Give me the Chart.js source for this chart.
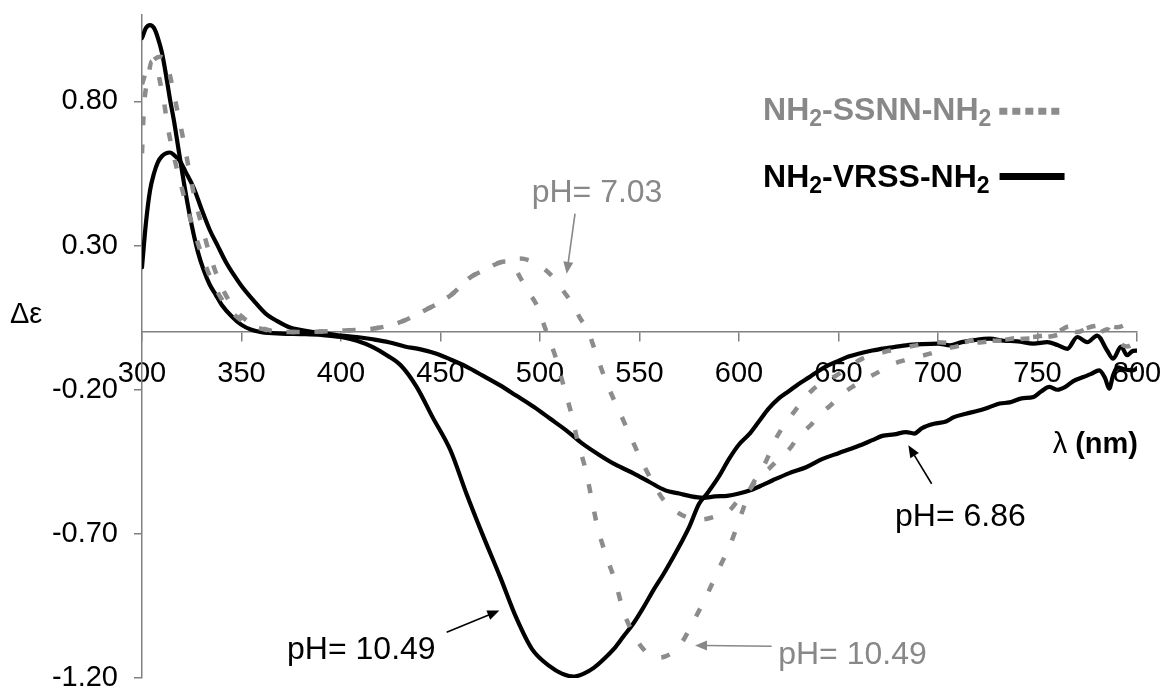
<!DOCTYPE html>
<html>
<head>
<meta charset="utf-8">
<script src="https://cdn.jsdelivr.net/npm/chart.js@4.4.1/dist/chart.umd.min.js"></script>
<style>
  html, body { margin: 0; padding: 0; background: #fff; }
  #wrap { width: 1166px; height: 690px; }
</style>
</head>
<body>
<div id="wrap"><canvas id="c" width="1166" height="690"></canvas></div>
<script>
// ---------- DATA ----------
const xTicksStep = 50;
const yTickValues = [-1.20, -0.70, -0.20, 0.30, 0.80];

// NH2-VRSS-NH2, pH 10.49 (black, deep minimum)
const vrss1049_x = [300,302,304,306,308,310,312,314,316,319,322,325,328,331,334,337,340,345,350,355,360,370,380,390,400,408,416,423,430,438,446,455,463,471,480,488,496,505,511,517,522,527,532,537,542,547,552,557,562,567,571,575,580,584,590,595,600,605,610,615,620,625,630,635,640,645,650,655,660,667,675,684,692,700,706,712,718,726,733,740,748,755,760,765,770,775,780,785,788,792,795,798,800];
const vrss1049_y = [1.02,1.055,1.065,1.055,1.02,0.97,0.895,0.81,0.735,0.606,0.48,0.37,0.28,0.215,0.165,0.13,0.095,0.055,0.025,0.008,0.0,-0.005,-0.007,-0.01,-0.017,-0.03,-0.052,-0.08,-0.115,-0.19,-0.295,-0.41,-0.56,-0.70,-0.85,-0.99,-1.10,-1.16,-1.185,-1.195,-1.185,-1.165,-1.135,-1.10,-1.055,-1.01,-0.955,-0.895,-0.84,-0.78,-0.73,-0.676,-0.595,-0.56,-0.50,-0.44,-0.39,-0.355,-0.31,-0.265,-0.23,-0.205,-0.18,-0.158,-0.135,-0.115,-0.10,-0.085,-0.075,-0.064,-0.055,-0.046,-0.042,-0.04,-0.046,-0.035,-0.028,-0.023,-0.03,-0.032,-0.04,-0.035,-0.045,-0.058,-0.017,-0.035,-0.012,-0.064,-0.092,-0.05,-0.08,-0.065,-0.064];

// NH2-VRSS-NH2, pH 6.86 (black, shallow minimum)
const vrss686_x = [300,302,304,306,308,310,312,314,316,319,322,326,330,334,338,342,346,350,356,362,368,374,380,386,393,400,408,416,424,432,440,448,455,463,471,480,488,497,505,513,521,530,538,547,555,563,570,576,582,588,594,600,606,612,617,625,634,642,650,659,667,672,678,684,688,692,698,704,708,714,720,726,731,736,742,748,752,756,760,764,768,773,777,781,784,786,788,790,794,798,800];
const vrss686_y = [0.225,0.38,0.49,0.55,0.59,0.61,0.62,0.623,0.615,0.594,0.555,0.50,0.425,0.355,0.30,0.245,0.20,0.16,0.11,0.065,0.038,0.017,0.007,0.0,-0.005,-0.012,-0.017,-0.025,-0.035,-0.05,-0.06,-0.075,-0.095,-0.12,-0.15,-0.185,-0.22,-0.26,-0.30,-0.34,-0.385,-0.427,-0.46,-0.49,-0.52,-0.549,-0.56,-0.57,-0.575,-0.57,-0.568,-0.56,-0.548,-0.53,-0.514,-0.49,-0.468,-0.44,-0.42,-0.398,-0.375,-0.36,-0.355,-0.347,-0.352,-0.333,-0.318,-0.31,-0.295,-0.283,-0.273,-0.26,-0.248,-0.244,-0.23,-0.225,-0.205,-0.19,-0.20,-0.19,-0.17,-0.156,-0.145,-0.133,-0.16,-0.196,-0.15,-0.122,-0.13,-0.133,-0.125];

// NH2-SSNN-NH2, pH 7.03 (grey dotted, shallow minimum)
const ssnn703_x = [300,301,303,305,307,309,311,313,316,320,324,328,332,336,340,345,350,356,362,370,380,390,400,415,428,442,455,465,472,480,485,490,496,502,508,512,517,520,524,529,534,540,546,552,559,563,569,575,581,588,595,600,606,610,615,620,626,630,636,640,646,651,657,663,670,676,683,690,696,702,708,715,722,730,740,750,760,766,772,778,784,790,795,800];
const ssnn703_y = [0.62,0.78,0.88,0.94,0.93,0.87,0.80,0.71,0.61,0.50,0.40,0.31,0.23,0.165,0.115,0.07,0.04,0.02,0.008,0.0,0.0,0.002,0.005,0.011,0.03,0.075,0.127,0.19,0.215,0.242,0.25,0.255,0.245,0.22,0.179,0.14,0.092,0.05,0.006,-0.092,-0.185,-0.277,-0.37,-0.46,-0.55,-0.59,-0.625,-0.645,-0.65,-0.64,-0.62,-0.58,-0.54,-0.50,-0.474,-0.44,-0.40,-0.36,-0.323,-0.29,-0.254,-0.22,-0.19,-0.165,-0.139,-0.115,-0.098,-0.085,-0.075,-0.06,-0.052,-0.04,-0.035,-0.03,-0.02,-0.015,0.0,0.02,0.01,0.02,0.025,0.017,0.03,0.063];

// NH2-SSNN-NH2, pH 10.49 (grey dotted, deep minimum)
const ssnn1049_x = [300,303,306,309,311,313,315,318,321,324,327,330,334,338,342,346,350,356,362,370,380,390,400,415,428,442,455,465,472,480,485,490,494,498,503,508,512,516,519,523,526,529,533,538,542,548,552,558,563,570,577,584,590,596,601,606,613,619,627,637,649,662,676,689,700,710,720,730,740,750,760,765,770,775,780,785,790,795,800];
const ssnn1049_y = [0.86,0.92,0.945,0.955,0.95,0.92,0.86,0.76,0.66,0.55,0.45,0.37,0.27,0.19,0.13,0.085,0.055,0.025,0.01,0.0,0.0,0.002,0.005,0.011,0.03,0.075,0.127,0.19,0.215,0.242,0.245,0.19,0.14,0.098,0.006,-0.09,-0.19,-0.29,-0.38,-0.48,-0.58,-0.68,-0.77,-0.87,-0.97,-1.06,-1.10,-1.13,-1.125,-1.09,-1.005,-0.91,-0.82,-0.73,-0.635,-0.54,-0.456,-0.364,-0.283,-0.20,-0.15,-0.092,-0.064,-0.046,-0.035,-0.04,-0.025,-0.03,-0.025,-0.02,-0.01,0.006,0.0,0.01,-0.005,0.01,-0.03,-0.05,-0.03];

const seriesNames = ['NH2-VRSS-NH2 pH 10.49', 'NH2-VRSS-NH2 pH 6.86', 'NH2-SSNN-NH2 pH 7.03', 'NH2-SSNN-NH2 pH 10.49'];

// ---------- STYLE ----------
const FONT = '"Liberation Sans", Arial, sans-serif';
const GREY_LINE = '#8c8c8c';
const GREY_TEXT = '#888888';
const AXIS = '#808080';

const pts = (xs, ys) => xs.map((x, i) => ({ x: x, y: ys[i] }));

const solid = { borderColor: '#000', borderWidth: 4.2, pointRadius: 0, cubicInterpolationMode: 'monotone', fill: false, borderCapStyle: 'round', borderJoinStyle: 'round' };
const dotted = { borderColor: GREY_LINE, borderWidth: 4.5, borderDash: [9, 19], pointRadius: 0, cubicInterpolationMode: 'monotone', fill: false, borderCapStyle: 'butt' };

function arrow(ctx, x1, y1, x2, y2, color) {
  const ang = Math.atan2(y2 - y1, x2 - x1);
  const L = 12, W = 5;
  ctx.strokeStyle = color; ctx.fillStyle = color; ctx.lineWidth = 1.6;
  ctx.beginPath(); ctx.moveTo(x1, y1);
  ctx.lineTo(x2 - Math.cos(ang) * L * 0.8, y2 - Math.sin(ang) * L * 0.8); ctx.stroke();
  ctx.beginPath();
  ctx.moveTo(x2, y2);
  ctx.lineTo(x2 - Math.cos(ang) * L + Math.sin(ang) * W, y2 - Math.sin(ang) * L - Math.cos(ang) * W);
  ctx.lineTo(x2 - Math.cos(ang) * L - Math.sin(ang) * W, y2 - Math.sin(ang) * L + Math.cos(ang) * W);
  ctx.closePath(); ctx.fill();
}

function subText(ctx, parts, x, base, color) {
  ctx.fillStyle = color; ctx.textBaseline = 'alphabetic'; ctx.textAlign = 'left';
  for (const [t, sub] of parts) {
    ctx.font = sub ? 'bold 23px ' + FONT : 'bold 32px ' + FONT;
    ctx.fillText(t, x, sub ? base + 6 : base);
    x += ctx.measureText(t).width;
  }
  return x;
}

const annotations = {
  id: 'annotations',
  afterDatasetsDraw(chart) {
    const { ctx, chartArea } = chart;
    const X = v => chart.scales.x.getPixelForValue(v);
    const Y = v => chart.scales.y.getPixelForValue(v);
    ctx.save();
    ctx.textBaseline = 'alphabetic'; ctx.textAlign = 'left';

    // pH labels
    ctx.font = '32px ' + FONT;
    ctx.fillStyle = GREY_TEXT; ctx.fillText('pH= 7.03', X(495.8), Y(0.4496));
    arrow(ctx, X(517.6), Y(0.411), X(513.4), Y(0.202), GREY_TEXT);

    ctx.fillStyle = GREY_TEXT; ctx.font = '32px ' + FONT;
    ctx.fillText('pH= 10.49', X(619.7), Y(-1.151));
    arrow(ctx, X(616.4), Y(-1.090), X(577.9), Y(-1.087), GREY_TEXT);

    ctx.fillStyle = '#000'; ctx.font = '32px ' + FONT;
    ctx.fillText('pH= 10.49', X(372.9), Y(-1.133));
    arrow(ctx, X(453.1), Y(-1.041), X(479.6), Y(-0.966), '#000');

    ctx.fillStyle = '#000'; ctx.font = '32px ' + FONT;
    ctx.fillText('pH= 6.86', X(678.4), Y(-0.671));
    arrow(ctx, X(696.8), Y(-0.526), X(685.1), Y(-0.393), '#000');

    // legend
    let end = subText(ctx, [['NH', false], ['2', true], ['-SSNN-NH', false], ['2', true]], X(612.1), Y(0.7365), GREY_TEXT);
    ctx.strokeStyle = GREY_LINE; ctx.lineWidth = 7; ctx.setLineDash([8, 5]);
    ctx.beginPath(); ctx.moveTo(end + 8, Y(0.766)); ctx.lineTo(end + 73, Y(0.766)); ctx.stroke();
    ctx.setLineDash([]);
    end = subText(ctx, [['NH', false], ['2', true], ['-VRSS-NH', false], ['2', true]], X(612.1), Y(0.505), '#000');
    ctx.strokeStyle = '#000'; ctx.lineWidth = 7;
    ctx.beginPath(); ctx.moveTo(end + 10, Y(0.54)); ctx.lineTo(end + 75, Y(0.54)); ctx.stroke();

    // axis titles
    ctx.fillStyle = '#000'; ctx.font = '29px ' + FONT; ctx.textAlign = 'left';
    ctx.fillText('\u0394\u03b5', chartArea.left - 132, Y(0.03));
    ctx.textAlign = 'right';
    ctx.font = 'bold 29px ' + FONT;
    const nm = ' (nm)';
    const nmW = ctx.measureText(nm).width;
    ctx.fillText(nm, chartArea.right + 1, Y(-0.421));
    ctx.font = '29px ' + FONT;
    ctx.fillText('\u03bb', chartArea.right + 1 - nmW, Y(-0.421));
    ctx.restore();
  }
};

new Chart(document.getElementById('c'), {
  type: 'line',
  data: {
    datasets: [
      Object.assign({ label: seriesNames[2], data: pts(ssnn703_x, ssnn703_y) }, dotted),
      Object.assign({ label: seriesNames[3], data: pts(ssnn1049_x, ssnn1049_y) }, dotted),
      Object.assign({ label: seriesNames[0], data: pts(vrss1049_x, vrss1049_y) }, solid),
      Object.assign({ label: seriesNames[1], data: pts(vrss686_x, vrss686_y) }, solid)
    ]
  },
  options: {
    responsive: false,
    animation: false,
    devicePixelRatio: 1,
    layout: { padding: { top: 15, right: 29, bottom: 12, left: 0 } },
    plugins: { legend: { display: false }, tooltip: { enabled: false } },
    scales: {
      x: {
        type: 'linear',
        min: 300, max: 800,
        position: { y: 0 },
        afterFit: s => { s.paddingLeft = 0; s.paddingRight = 0; },
        ticks: { stepSize: xTicksStep, color: '#000', font: { family: FONT, size: 29 }, padding: 16, maxRotation: 0, autoSkip: false },
        grid: { drawOnChartArea: false, drawTicks: true, tickLength: 9, color: AXIS, lineWidth: 1.5 },
        border: { display: true, color: AXIS, width: 1.5 }
      },
      y: {
        type: 'linear',
        min: -1.2, max: 1.1,
        position: 'left',
        afterBuildTicks: s => { s.ticks = yTickValues.map(v => ({ value: v })); },
        afterFit: s => { s.width = 142; s.paddingTop = 0; s.paddingBottom = 0; },
        ticks: { color: '#000', font: { family: FONT, size: 29 }, padding: 16, callback: v => Number(v).toFixed(2) },
        grid: { drawOnChartArea: false, drawTicks: true, tickLength: 8, color: AXIS, lineWidth: 1.5 },
        border: { display: true, color: AXIS, width: 1.5 }
      }
    }
  },
  plugins: [annotations]
});
</script>
</body>
</html>
